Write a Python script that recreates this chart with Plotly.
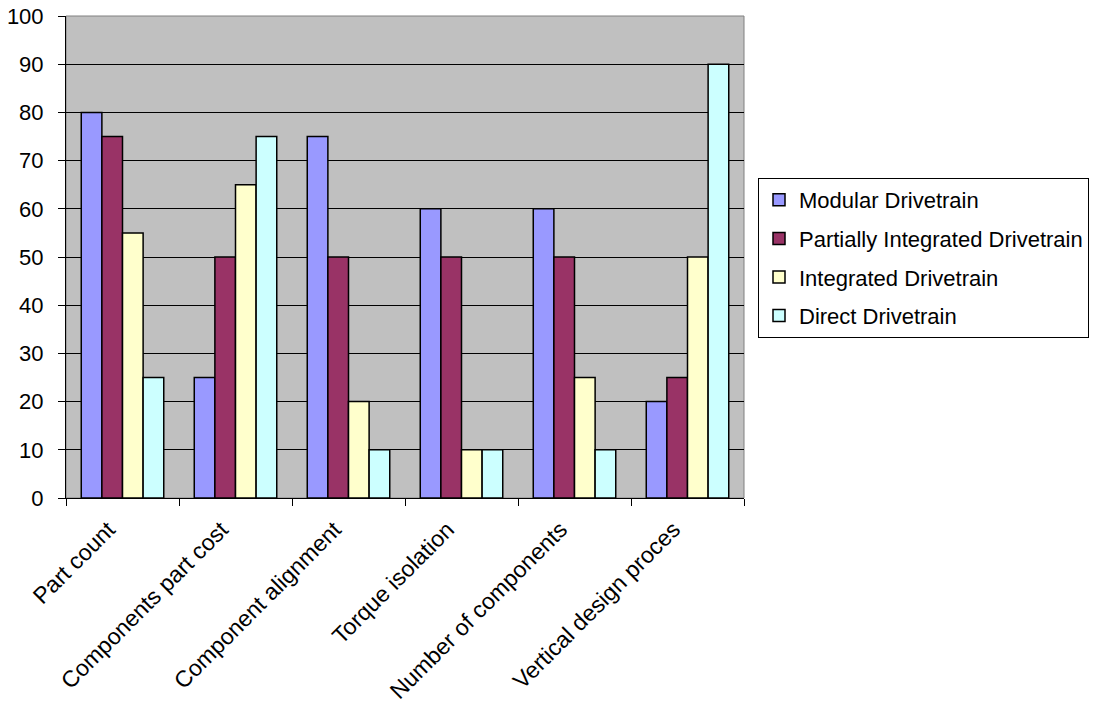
import plotly.graph_objects as go

categories = ["Part count", "Components part cost", "Component alignment",
              "Torque isolation", "Number of components", "Vertical design proces"]
series_names = ["Modular Drivetrain", "Partially Integrated Drivetrain",
                "Integrated Drivetrain", "Direct Drivetrain"]
modular = [80, 25, 75, 60, 60, 20]
partially_integrated = [75, 50, 50, 50, 50, 25]
integrated = [55, 65, 20, 10, 25, 50]
direct = [25, 75, 10, 10, 10, 90]
colors = ["#9999FF", "#993366", "#FFFFCC", "#CCFFFF"]
y_ticks = list(range(0, 101, 10))

FONT = "Liberation Sans, Arial, sans-serif"

fig = go.Figure()
for i, (name, vals) in enumerate(zip(series_names, [modular, partially_integrated, integrated, direct])):
    fig.add_trace(go.Bar(
        x=categories, y=vals, name=name, legendgroup=name,
        marker=dict(color=colors[i], line=dict(color="black", width=1.5)),
    ))

fig.update_layout(
    width=1096, height=711,
    margin=dict(l=66, r=352, t=16, b=213, autoexpand=False),
    paper_bgcolor="white", plot_bgcolor="#C0C0C0",
    barmode="group", bargap=0.27, bargroupgap=0,
    font=dict(family=FONT, color="black"),
    legend=dict(
        xref="container", yref="container",
        x=758/1096, xanchor="left", y=1-178/711, yanchor="top",
        bordercolor="black", borderwidth=1, bgcolor="white",
        font=dict(size=22, family=FONT), tracegroupgap=7,
        traceorder="grouped",
    ),
    showlegend=True,
)
fig.update_xaxes(
    showline=True, linecolor="black", linewidth=1,
    ticks="outside", tickson="boundaries", ticklen=7, tickcolor="black",
    tickangle=-45, tickfont=dict(size=23, family=FONT),
    ticklabelstandoff=8, ticklabelshift=-14,
    showgrid=False,
)
fig.update_yaxes(
    range=[0, 100], tickvals=y_ticks, showline=True, linecolor="black", linewidth=1,
    ticks="outside", ticklen=7, tickcolor="black",
    tickfont=dict(size=22, family=FONT), ticklabelstandoff=10,
    showgrid=True, gridcolor="black", gridwidth=1, zeroline=False,
)
fig.add_shape(type="rect", xref="paper", yref="paper", x0=0, x1=1, y0=0, y1=1,
              line=dict(color="#808080", width=1), layer="below")

fig.write_html("out.html")
